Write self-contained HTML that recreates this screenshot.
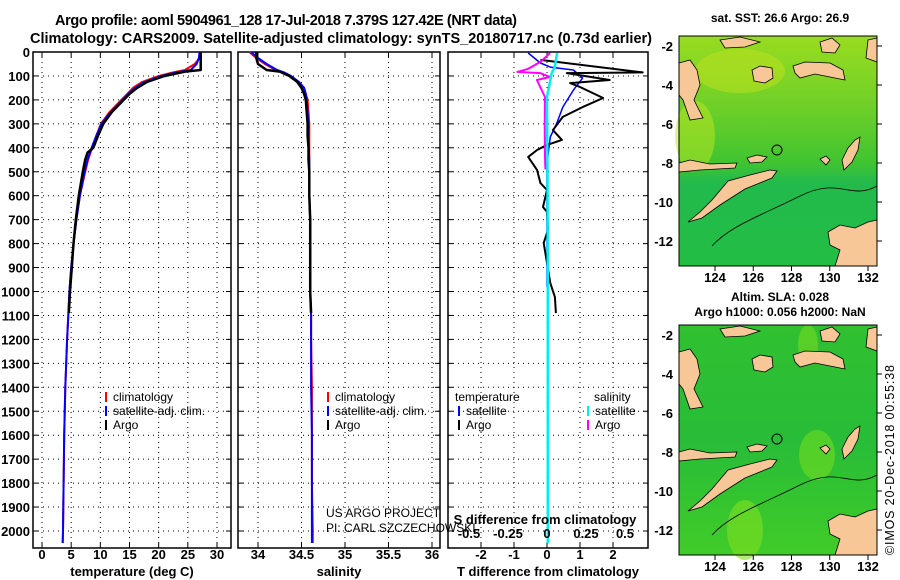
<!DOCTYPE html>
<html><head><meta charset="utf-8"><style>
body{margin:0;background:#fff;}
svg{display:block;font-family:"Liberation Sans",sans-serif;}
.t{font-weight:bold;font-size:13px;}
</style></head><body>
<svg id="fig" width="900" height="580" viewBox="0 0 900 580">
<text x="286" y="25" text-anchor="middle" font-size="14.5" font-weight="bold" textLength="462">Argo profile: aoml 5904961_128 17-Jul-2018 7.379S 127.42E (NRT data)</text>
<text x="341" y="43" text-anchor="middle" font-size="14.5" font-weight="bold" textLength="622">Climatology: CARS2009. Satellite-adjusted climatology: synTS_20180717.nc (0.73d earlier)</text>
<g id="panels"></g>
<g id="maps"></g>
<text transform="translate(894,555) rotate(-90)" font-size="12.5" textLength="190">©IMOS 20-Dec-2018 00:55:38</text>
</svg>
<script>
// ---- data ----
const depthsClim = [0,25,50,75,85,100,125,150,175,200,250,300,350,400,450,500,600,700,800,900,1000,1100,1200,1400,1600,1800,2000,2050];
const tempClim   = [27.3,27.0,26.2,24.5,22.5,20.0,17.2,15.6,14.6,13.6,11.6,10.1,9.3,8.6,7.9,7.4,6.5,5.9,5.4,5.0,4.7,4.5,4.3,4.0,3.8,3.7,3.6,3.55];
const tempSat    = [27.0,26.9,26.5,25.5,23.0,20.5,17.6,15.9,14.8,13.8,11.8,10.2,9.3,8.5,7.8,7.3,6.5,5.9,5.4,5.0,4.7,4.5,4.3,4.0,3.8,3.7,3.6,3.55];
const depthsArgo = [0,25,50,75,82,100,125,150,175,200,250,300,350,400,420,450,500,600,700,800,900,1000,1090];
const tempArgo   = [27.2,27.2,27.2,27.2,24.5,21.0,18.0,16.3,15.0,14.0,12.0,10.5,9.6,8.8,7.8,7.4,7.0,6.3,5.8,5.4,5.1,4.8,4.6];
const salClim    = [33.9,33.98,34.08,34.2,34.28,34.37,34.47,34.53,34.55,34.57,34.58,34.59,34.59,34.59,34.59,34.59,34.59,34.6,34.6,34.6,34.6,34.61,34.61,34.62,34.62,34.62,34.63,34.63];
const salSat     = [33.92,34.0,34.1,34.22,34.3,34.38,34.47,34.53,34.55,34.56,34.57,34.58,34.58,34.58,34.59,34.59,34.59,34.6,34.6,34.6,34.6,34.61,34.61,34.61,34.62,34.62,34.62,34.62];
const salArgo    = [33.98,33.98,34.0,34.1,34.25,34.36,34.45,34.5,34.53,34.55,34.56,34.57,34.57,34.58,34.58,34.58,34.59,34.59,34.6,34.6,34.6,34.6,34.61];
const dTdepthArgo = [33,85,88,117,130,146,192,230,271,326,367,388,409,438,493,547,576,647,668,743,797,881,965,1023,1090];
const dTArgo      = [-0.2,2.9,0.6,1.9,0.7,1.0,1.7,1.08,0.48,0.18,0.45,0,-0.3,-0.57,-0.3,-0.2,0,-0.12,0,0.03,-0.1,0,0.1,0.24,0.27];
const dTdepthSat  = [4,46,63,75,109,159,230,296,355,463,700,981];
const dTSat       = [-0.57,-0.2,0.1,0.8,1.08,0.8,0.48,0.3,0.1,0,0,0];
const dSdepthArgo = [4,40,70,83,88,104,117,188,300,438,490];
const dSArgo      = [0.02,-0.04,-0.12,-0.19,-0.045,0.02,-0.065,-0.013,-0.015,-0.013,-0.01];
const dSdepthSat  = [4,63,88,188,500,1000,1500,2050];
const dSSat       = [0.065,0.05,0.03,0,0.003,0.005,0.005,0.005];
const tempTicks = [0,5,10,15,20,25,30];
const salTicks = [34,34.5,35,35.5,36];
const salTickLabels = ["34","34.5","35","35.5","36"];
const dTTicks = [-2,-1,0,1,2];
const dSTicks = [-0.5,-0.25,0,0.25,0.5];
const dSTickLabels = ["-0.5","-0.25","0","0.25","0.5"];
const depthTicks = [0,100,200,300,400,500,600,700,800,900,1000,1100,1200,1300,1400,1500,1600,1700,1800,1900,2000];

const NS="http://www.w3.org/2000/svg";
const P=document.getElementById('panels');
function mk(tag,attrs,parent){const e=document.createElementNS(NS,tag);for(const k in attrs)e.setAttribute(k,attrs[k]);(parent||P).appendChild(e);return e;}
const yTop=52, yBot=548;
const yD=d=>yTop+d*0.2395;
function lin(d0,d1,p0,p1){return v=>p0+(v-d0)*(p1-p0)/(d1-d0);}

function panel(name,x0,x1,xs,ticks,labels,xlabel){
  const g=mk('g',{});
  
  
  depthTicks.forEach(d=>{mk('line',{x1:x0,x2:x1,y1:yD(d),y2:yD(d),stroke:'#000','stroke-width':1,'stroke-dasharray':'1 4'},g);
    mk('line',{x1:x0,x2:x0+5,y1:yD(d),y2:yD(d),stroke:'#000'},g);mk('line',{x1:x1-5,x2:x1,y1:yD(d),y2:yD(d),stroke:'#000'},g);});
  ticks.forEach((t,i)=>{const x=xs(t);mk('line',{x1:x,x2:x,y1:yTop,y2:yBot,stroke:'#000','stroke-dasharray':'1 4'},g);
    mk('line',{x1:x,x2:x,y1:yBot-5,y2:yBot,stroke:'#000'},g);mk('line',{x1:x,x2:x,y1:yTop,y2:yTop+5,stroke:'#000'},g);
    if(labels){const tx=mk('text',{x:x,y:559,'text-anchor':'middle',class:'t'},g);tx.textContent=labels[i];
      
      }});
  mk('rect',{x:x0,y:yTop,width:x1-x0,height:yBot-yTop,fill:'none',stroke:'#000','stroke-width':1.5},g);
  if(xlabel){const t=mk('text',{x:(x0+x1)/2,y:576,'text-anchor':'middle',class:'t'},g);t.textContent=xlabel;
    
    }
  return g;
}
function series(g,name,xs,vals,depths,color,w){
  const pts=vals.map((v,i)=>xs(v).toFixed(1)+','+yD(depths[i]).toFixed(1)).join(' ');
  const pl=mk('polyline',{points:pts,fill:'none',stroke:color,'stroke-width':w,'stroke-linejoin':'round'},g);
  
  
}
function legend(g,x,y,color,label,name){
  mk('line',{x1:x,x2:x,y1:y-9,y2:y+1,stroke:color,'stroke-width':2},g);
  const t=mk('text',{x:x+7,y:y,'font-size':12},g);t.textContent=label;
  
  
}
depthTicks.forEach(d=>{const t=mk('text',{x:30,y:yD(d)+5,'text-anchor':'end',class:'t'});t.textContent=d;
  
  });

const xT=lin(0,30,42,217);
const gT=panel('temperature-panel',33,231,xT,tempTicks,tempTicks.map(String),'temperature (deg C)');
series(gT,'temp-climatology-line',xT,tempClim,depthsClim,'#f00',2);
series(gT,'temp-satellite-line',xT,tempSat,depthsClim,'#00f',2);
series(gT,'temp-argo-line',xT,tempArgo,depthsArgo,'#000',2.5);
legend(gT,106,401,'#f00','climatology','legend-climatology');
legend(gT,106,415,'#00f','satellite-adj. clim.','legend-satellite');
legend(gT,106,429,'#000','Argo','legend-argo');
const xS=lin(34,36,258,432);
const gS=panel('salinity-panel',238,440,xS,salTicks,salTickLabels,'salinity');
series(gS,'sal-climatology-line',xS,salClim,depthsClim,'#f00',2);
series(gS,'sal-satellite-line',xS,salSat,depthsClim,'#00f',2);
series(gS,'sal-argo-line',xS,salArgo,depthsArgo,'#000',2.5);
legend(gS,328,401,'#f00','climatology','legend-climatology');
legend(gS,328,415,'#00f','satellite-adj. clim.','legend-satellite');
legend(gS,328,429,'#000','Argo','legend-argo');
[['US ARGO PROJECT',517],['PI: CARL SZCZECHOWSKI',532]].forEach(([s,y])=>{const t=mk('text',{x:326,y:y,'font-size':12},gS);t.textContent=s;
  
  });
const xdT=lin(0,2,547,613);
const xdS=lin(0,0.5,547,625);
const gD=panel('difference-panel',448,648,xdT,dTTicks,dTTicks.map(String),'T difference from climatology');
series(gD,'tdiff-satellite-line',xdT,dTSat,dTdepthSat,'#00f',1.5);
series(gD,'tdiff-argo-line',xdT,dTArgo,dTdepthArgo,'#000',2);
series(gD,'sdiff-argo-line',xdS,dSArgo,dSdepthArgo,'#f0f',2);
series(gD,'sdiff-satellite-line',xdS,dSSat,dSdepthSat,'#0ee',2.5);
dSTicks.forEach((t,i)=>{const x=mk('text',{x:xdS(t),y:538,'text-anchor':'middle',class:'t'},gD);x.textContent=dSTickLabels[i];
  
  });
{const t=mk('text',{x:545,y:524,'text-anchor':'middle',class:'t'},gD);t.textContent='S difference from climatology';
 
 }
{const t=mk('text',{x:455,y:401,'font-size':12},gD);t.textContent='temperature';
 
 }
{const t=mk('text',{x:594,y:401,'font-size':12},gD);t.textContent='salinity';
 
 }
legend(gD,459,415,'#00f','satellite','legend-t-satellite');
legend(gD,459,429,'#000','Argo','legend-t-argo');
legend(gD,588,415,'#0ee','satellite','legend-s-satellite');
legend(gD,588,429,'#f0f','Argo','legend-s-argo');

// ---- maps ----
const M=document.getElementById('maps');
const latTicks=[-2,-4,-6,-8,-10,-12];
const lonTicks=[124,126,128,130,132];
const land=[
 "688,222 700,212 712,200 728,181 750,175 770,170 777,171 772,178 745,189 720,205 702,218",
 "752,70 760,66 772,68 773,78 765,83 754,81",
 "793,66 805,62 830,63 843,70 845,80 835,78 815,74 800,78 795,73",
 "679,163 690,160 710,164 737,163 735,168 700,170 679,172",
 "747,158 757,155 767,157 762,162 750,163",
 "842,160 848,148 855,140 860,137 858,150 852,162 844,170",
 "828,232 840,225 855,228 868,222 877,220 877,266 835,266 840,250 830,245",
 "679,63 690,60 697,70 700,85 694,100 703,118 690,120 683,100 679,95",
 "720,40 740,37 760,42 745,47 725,48",
 "820,42 832,38 840,45 835,53 822,52",
 "868,40 877,38 877,62 866,58",
 "820,159 826,156 830,160 826,165"
];
function mapBox(name,y0,grad,title){
  const g=document.createElementNS(NS,'g');M.appendChild(g);
  
  
  const x0=679,w=198,h=230;
  const defs=mk('defs',{},g);defs.innerHTML=grad;
  mk('rect',{x:x0,y:y0,width:w,height:h,fill:'url(#'+name+'-g)'},g);
  if(name==='sst-map'){
    mk('ellipse',{cx:740,cy:y0+35,rx:45,ry:22,fill:'#b8e020',opacity:0.6},g);
    mk('ellipse',{cx:695,cy:y0+100,rx:20,ry:35,fill:'#c0e820',opacity:0.5},g);
    mk('rect',{x:x0,y:y0+140,width:w,height:90,fill:'#22bb48',opacity:0.5},g);
  } else {
    mk('ellipse',{cx:817,cy:y0+130,rx:18,ry:25,fill:'#70dc20',opacity:0.6},g);
    mk('ellipse',{cx:745,cy:y0+205,rx:18,ry:30,fill:'#80e020',opacity:0.6},g);
    mk('ellipse',{cx:808,cy:y0+20,rx:10,ry:20,fill:'#80e020',opacity:0.5},g);
  }
  const dy=y0-36;
  land.forEach(p=>{const pg=mk('polygon',{points:p,fill:'#f7c797',stroke:'#000','stroke-width':0.8,transform:'translate(0,'+dy+')'},g);
    
    });
  mk('path',{d:'M712,'+(y0+210)+' C730,'+(y0+190)+' 760,'+(y0+180)+' 800,'+(y0+160)+' S850,'+(y0+165)+' 877,'+(y0+150),fill:'none',stroke:'#000','stroke-width':0.8},g);
  mk('circle',{cx:777,cy:y0+114,r:5,fill:'none',stroke:'#000','stroke-width':1},g);
  mk('rect',{x:x0,y:y0,width:w,height:h,fill:'none',stroke:'#000','stroke-width':1},g);
  const ly=lin(-2,-12,y0+10,y0+205), lx=lin(124,132,715,868);
  latTicks.forEach(v=>{const y=ly(v);mk('line',{x1:x0+w,x2:x0+w+5,y1:y,y2:y,stroke:'#000'},g);
    const t=mk('text',{x:673,y:y+5,'text-anchor':'end',class:'t'},g);t.textContent=v;
    
    });
  lonTicks.forEach(v=>{const x=lx(v);mk('line',{x1:x,x2:x,y1:y0+h,y2:y0+h+5,stroke:'#000'},g);
    const t=mk('text',{x:x,y:y0+h+16,'text-anchor':'middle',class:'t'},g);t.textContent=v;
    
    });
  title.forEach(([s,y])=>{const t=mk('text',{x:780,y:y,'text-anchor':'middle','font-size':12,'font-weight':'bold'},g);t.textContent=s;
    
    });
}
mapBox('sst-map',36,'<linearGradient id="sst-map-g" x1="0" y1="0" x2="0" y2="1"><stop offset="0" stop-color="#98dc20"/><stop offset="0.3" stop-color="#70d028"/><stop offset="0.55" stop-color="#40c430"/><stop offset="0.65" stop-color="#22b850"/><stop offset="1" stop-color="#22c040"/></linearGradient>',[['sat. SST: 26.6 Argo: 26.9',22]]);
mapBox('sla-map',325,'<linearGradient id="sla-map-g" x1="0" y1="0" x2="0" y2="1"><stop offset="0" stop-color="#30c030"/><stop offset="0.5" stop-color="#28bc38"/><stop offset="1" stop-color="#40cc28"/></linearGradient>',[['Altim. SLA: 0.028',301],['Argo h1000: 0.056 h2000: NaN',316]]);
</script>
</body></html>
